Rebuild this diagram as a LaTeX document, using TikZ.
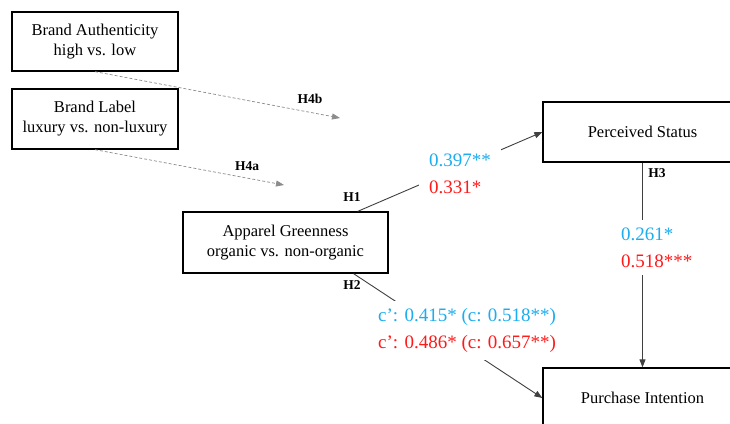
\documentclass[tikz,border=0pt]{standalone}
\usepackage{fontspec}
\setmainfont{Liberation Serif}
\usetikzlibrary{arrows.meta,calc}
\definecolor{cblue}{HTML}{1AADEF}
\definecolor{cred}{HTML}{FF1A1A}
\definecolor{cgray}{HTML}{8C8C8C}
\definecolor{cline}{HTML}{404040}
\begin{document}
\begin{tikzpicture}[x=1pt,y=-1pt,
 box/.style={draw=black,line width=1.3pt,align=center,font=\fontsize{16.5}{20}\selectfont,inner sep=0pt},
 hlab/.style={font=\fontsize{13.5}{14}\selectfont\bfseries,inner sep=0pt},
 dasharrow/.style={draw=cgray,line width=0.7pt,dash pattern=on 3pt off 2pt,-{Triangle[length=8pt,width=6pt,fill=cgray]}},
 conn/.style={draw=cline,line width=0.9pt,-{Triangle[length=8pt,width=6pt]}},
 coef/.style={fill=white,align=left,font=\fontsize{19}{27.5}\selectfont,inner xsep=10pt,inner ysep=7pt}
]
\useasboundingbox (0,0) rectangle (730,423);
\clip (0,0) rectangle (730,423);
\fill[white] (0,0) rectangle (730,423);
% boxes
\node[box,minimum width=166pt,minimum height=59pt] (auth) at (95,41.5) {Brand Authenticity\\high vs. low};
\node[box,minimum width=166pt,minimum height=60pt] (lab) at (95,119) {Brand Label\\luxury vs. non-luxury};
\node[box,minimum width=205pt,minimum height=61pt] (green) at (285.5,242.5) {Apparel Greenness\\organic vs. non-organic};
\node[box,minimum width=199pt,minimum height=60pt] (status) at (642.5,132) {Perceived Status};
\node[box,minimum width=199pt,minimum height=60pt] (purchase) at (642.5,398) {Purchase Intention};
% free ends of moderator arrows
\coordinate (h4bend) at (340,118);
\coordinate (h4aend) at (284,185);
% connectors
\draw[dasharrow] (auth.south) -- (h4bend);
\draw[dasharrow] (lab.south) -- (h4aend);
\draw[conn] ($(green.north west)!0.85!(green.north east)$) -- (status.west);
\draw[conn] ($(green.south west)!0.83!(green.south east)$) -- (purchase.west);
\draw[conn] (status.south) -- (purchase.north);
% coefficient labels
\node[coef,anchor=base west] (c1) at (419,193.5) {\color{cblue}0.397**\\\color{cred}0.331*};
\node[coef,anchor=base west] (c3) at (611,267.5) {\color{cblue}0.261*\\\color{cred}0.518***};
\node[coef,anchor=base west] (c2) at (368,348.5) {\color{cblue}c’: 0.415* (c: 0.518**)\\\color{cred}c’: 0.486* (c: 0.657**)};
% hypothesis labels
\node[hlab] (h4b) at (310,99) {H4b};
\node[hlab] (h4a) at (247,166) {H4a};
\node[hlab] (h1) at (352,197) {H1};
\node[hlab] (h2) at (352,285) {H2};
\node[hlab] (h3) at (657,173) {H3};
\end{tikzpicture}
\end{document}
